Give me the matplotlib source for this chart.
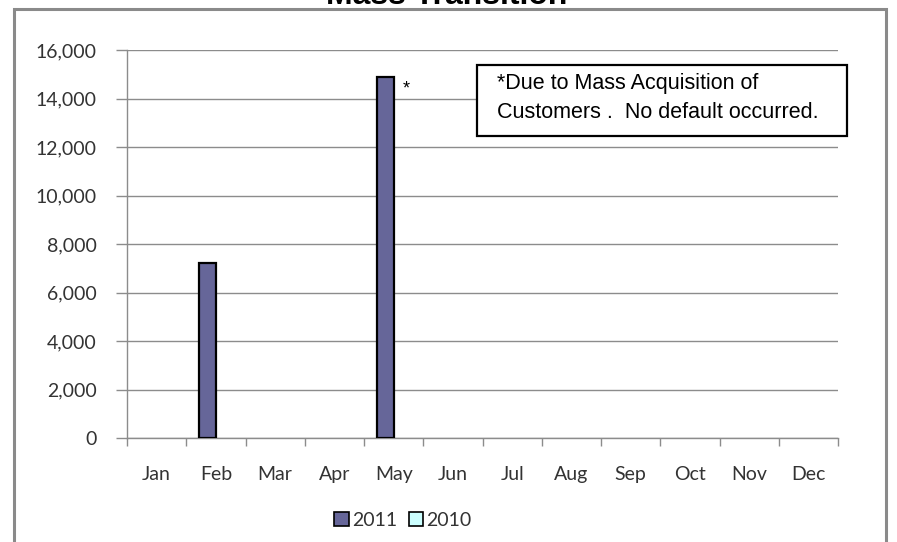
import matplotlib
matplotlib.use("Agg")
import matplotlib.pyplot as plt
from matplotlib.patches import Rectangle, Patch
from matplotlib.ticker import FuncFormatter, FixedLocator
import numpy as np

months = ["Jan", "Feb", "Mar", "Apr", "May", "Jun", "Jul", "Aug", "Sep", "Oct", "Nov", "Dec"]
series_names = ["2011", "2010"]
values_2011 = [0, 7200, 0, 0, 14900, 0, 0, 0, 0, 0, 0, 0]
values_2010 = [0, 0, 0, 0, 0, 0, 0, 0, 0, 0, 0, 0]
yticks = [0, 2000, 4000, 6000, 8000, 10000, 12000, 14000, 16000]
title = "Mass Transition"
note = "*Due to Mass Acquisition of\nCustomers .  No default occurred."

W, H = 897, 542
fig = plt.figure(figsize=(W / 100, H / 100), dpi=100)
tick_font = "Lato"

def fx(px):
    return px / W

def fy(py):
    return 1 - py / H

# outer chart frame
fig.patches.append(Rectangle((fx(14), fy(560)), fx(886) - fx(14), fy(9) - fy(560),
                             transform=fig.transFigure, fill=False,
                             edgecolor="#8a8a8a", linewidth=2.2))

ax = fig.add_axes([fx(127), fy(438), fx(838) - fx(127), fy(50) - fy(438)])

x = np.arange(len(months))
bw = 1 / 3.5
c2011 = "#666699"
c2010 = "#ccffff"
ax.bar(x - bw / 2, values_2011, width=bw, color=c2011,
       edgecolor=["black" if v > 0 else "none" for v in values_2011], linewidth=1.6, zorder=3)
ax.bar(x + bw / 2, values_2010, width=bw, color=c2010,
       edgecolor=["black" if v > 0 else "none" for v in values_2010], linewidth=1.6, zorder=3)

ax.set_xlim(-0.5, len(months) - 0.5)
ax.set_ylim(0, 16000)
ax.set_yticks(yticks)
ax.yaxis.set_major_formatter(FuncFormatter(lambda v, p: f"{int(v):,}"))
ax.grid(axis="y", color="#8c8c8c", linewidth=1.0, zorder=0)
ax.set_axisbelow(True)

ax.set_xticks(x)
ax.set_xticklabels(months)
ax.xaxis.set_minor_locator(FixedLocator(np.arange(-0.5, len(months), 1)))
ax.tick_params(axis="x", which="major", length=0, pad=20, labelsize=14, colors="#333333")
ax.tick_params(axis="x", which="minor", length=6, width=1, color="#8c8c8c")
ax.tick_params(axis="y", length=8, width=1, color="#8c8c8c", pad=14, labelsize=14, labelcolor="#333333")
for lbl in ax.get_xticklabels() + ax.get_yticklabels():
    lbl.set_fontfamily(tick_font)

for s in ["top", "right"]:
    ax.spines[s].set_visible(False)
ax.spines["left"].set_color("#8c8c8c")
ax.spines["bottom"].set_color("#8c8c8c")
ax.spines["left"].set_linewidth(1)
ax.spines["bottom"].set_linewidth(1)

# asterisk next to the May bar
imax = int(np.argmax(values_2011))
ax.annotate("*", xy=(x[imax], values_2011[imax]), xytext=(9, -9), textcoords="offset points",
            ha="center", va="center", fontsize=13, fontfamily="Liberation Sans")

# title (cut off at top)
fig.text(fx(447), fy(4), title, ha="center", va="baseline", fontsize=23,
         fontweight="bold", fontfamily="Liberation Sans")

# note box
fig.patches.append(Rectangle((fx(477), fy(136)), fx(847) - fx(477), fy(65) - fy(136),
                             transform=fig.transFigure, facecolor="white",
                             edgecolor="black", linewidth=1.6, zorder=5))
fig.text(fx(497), fy(89), note.split("\n")[0], ha="left", va="baseline", fontsize=15.5,
         fontfamily="Liberation Sans", zorder=6)
fig.text(fx(497), fy(118), note.split("\n")[1], ha="left", va="baseline", fontsize=15.5,
         fontfamily="Liberation Sans", zorder=6)

handles = [Patch(facecolor=c2011, edgecolor="black", linewidth=1.2),
           Patch(facecolor=c2010, edgecolor="black", linewidth=1.2)]
leg = fig.legend(handles, series_names, loc="center", bbox_to_anchor=(fx(403), fy(520)),
                 ncol=2, frameon=False, handlelength=0.75, handleheight=0.75,
                 handletextpad=0.15, columnspacing=0.6, borderpad=0,
                 prop={"family": tick_font, "size": 14})
for t in leg.get_texts():
    t.set_color("#333333")

fig.savefig("out.png", dpi=100)
